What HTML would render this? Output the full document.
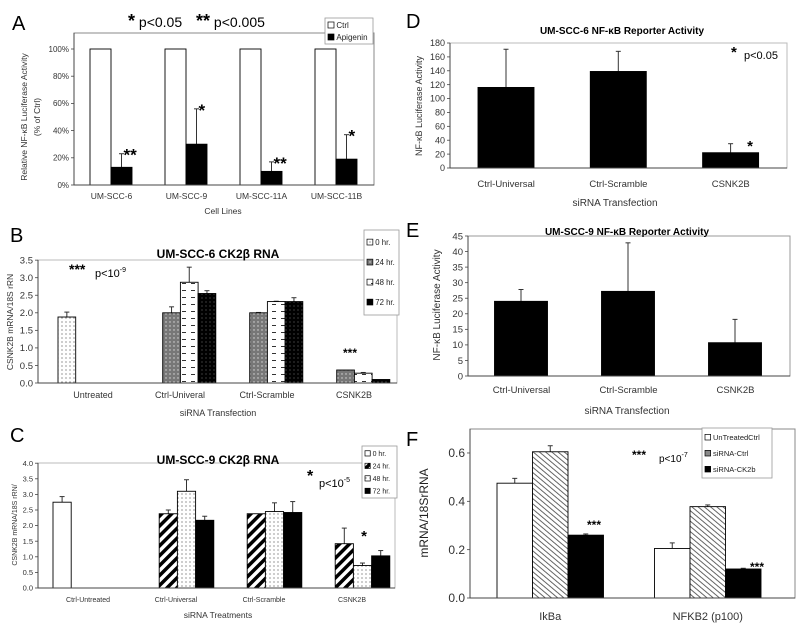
<!DOCTYPE html>
<html><head><meta charset="utf-8"><style>
html,body{margin:0;padding:0;background:#fff;}
svg{display:block;font-family:"Liberation Sans",sans-serif;}
</style></head><body>
<svg id="fig" width="800" height="634" viewBox="0 0 800 634">
<defs>
<pattern id="pDots" width="4" height="4" patternUnits="userSpaceOnUse"><rect width="4" height="4" fill="#fff"/><circle cx="2" cy="2" r="0.6" fill="#555"/></pattern>
<pattern id="pGrayDots" width="4" height="4" patternUnits="userSpaceOnUse"><rect width="4" height="4" fill="#777"/><circle cx="2" cy="2" r="0.7" fill="#ddd"/></pattern>
<pattern id="pDash" width="9" height="7" patternUnits="userSpaceOnUse"><rect width="9" height="7" fill="#fff"/><rect x="2" y="3" width="4" height="1" fill="#333"/></pattern>
<pattern id="pBlackDots" width="4" height="4" patternUnits="userSpaceOnUse"><rect width="4" height="4" fill="#000"/><circle cx="2" cy="2" r="0.5" fill="#999"/></pattern>
<pattern id="pDiag" width="7" height="7" patternUnits="userSpaceOnUse" patternTransform="rotate(45)"><rect width="7" height="7" fill="#fff"/><rect width="3.5" height="7" fill="#000"/></pattern>
<pattern id="pHatch" width="4" height="4" patternUnits="userSpaceOnUse" patternTransform="rotate(-50)"><rect width="4" height="4" fill="#fff"/><rect width="0.9" height="4" fill="#555"/></pattern>
</defs>
<g id="root"></g>
<text x="12" y="30" font-size="20">A</text>
<text x="128" y="27" font-size="14"><tspan font-size="18" font-weight="bold">*</tspan> p&lt;0.05 <tspan dx="10" font-size="18" font-weight="bold">**</tspan> p&lt;0.005</text>
<text x="223" y="214" font-size="8.5" text-anchor="middle" fill="#333">Cell Lines</text>
<text transform="translate(27,117) rotate(-90)" font-size="8.5" text-anchor="middle" fill="#333">Relative NF-κB Luciferase Activity</text>
<text transform="translate(40,117) rotate(-90)" font-size="8.5" text-anchor="middle" fill="#333">(% of Ctrl)</text>

<text x="10" y="242" font-size="20">B</text>
<text x="218" y="258" font-size="12" font-weight="bold" text-anchor="middle">UM-SCC-6 CK2β RNA</text>
<text x="69" y="274" font-size="14" font-weight="bold">***</text>
<text x="95" y="277" font-size="11">p&lt;10<tspan dy="-5" font-size="7">-9</tspan></text>
<text transform="translate(13,322) rotate(-90)" font-size="8.5" text-anchor="middle" fill="#333">CSNK2B mRNA/18S rRN</text>
<text x="218" y="416" font-size="9" text-anchor="middle" fill="#333">siRNA Transfection</text>
<text x="350" y="357" font-size="12" font-weight="bold" text-anchor="middle">***</text>

<text x="10" y="442" font-size="20">C</text>
<text x="218" y="464" font-size="12" font-weight="bold" text-anchor="middle">UM-SCC-9 CK2β RNA</text>
<text x="307" y="481" font-size="16" font-weight="bold">*</text>
<text x="319" y="487" font-size="11">p&lt;10<tspan dy="-5" font-size="7">-5</tspan></text>
<text transform="translate(17,525) rotate(-90)" font-size="7" text-anchor="middle" fill="#333">CSNK2B mRNA/18S rRN/</text>
<text x="218" y="618" font-size="8.5" text-anchor="middle" fill="#333">siRNA Treatments</text>
<text x="364" y="541" font-size="15" font-weight="bold" text-anchor="middle">*</text>

<text x="406" y="28" font-size="20">D</text>
<text x="622" y="34" font-size="10" font-weight="bold" text-anchor="middle">UM-SCC-6 NF-κB Reporter Activity</text>
<text x="731" y="57" font-size="15" font-weight="bold">*</text>
<text x="744" y="59" font-size="11">p&lt;0.05</text>
<text x="750" y="151" font-size="15" font-weight="bold" text-anchor="middle">*</text>
<text transform="translate(422,106) rotate(-90)" font-size="9" text-anchor="middle" fill="#333">NF-κB Luciferase Activity</text>
<text x="615" y="206" font-size="10" text-anchor="middle" fill="#333">siRNA Transfection</text>

<text x="406" y="237" font-size="20">E</text>
<text x="627" y="235" font-size="10" font-weight="bold" text-anchor="middle">UM-SCC-9 NF-κB Reporter Activity</text>
<text transform="translate(440,305) rotate(-90)" font-size="10" text-anchor="middle" fill="#333">NF-κB Luciferase Activity</text>
<text x="627" y="414" font-size="10" text-anchor="middle" fill="#333">siRNA Transfection</text>

<text x="406" y="446" font-size="20">F</text>
<text x="632" y="459" font-size="12" font-weight="bold">***</text>
<text x="659" y="462" font-size="10">p&lt;10<tspan dy="-5" font-size="7">-7</tspan></text>
<text x="594" y="529" font-size="12" font-weight="bold" text-anchor="middle">***</text>
<text x="757" y="571" font-size="12" font-weight="bold" text-anchor="middle">***</text>
<text transform="translate(428,513) rotate(-90)" font-size="12" text-anchor="middle" fill="#222">mRNA/18SrRNA</text>
</svg>
<script>
// ---- data ----
const aCategories = ["UM-SCC-6","UM-SCC-9","UM-SCC-11A","UM-SCC-11B"];
const aCtrl = [100,100,100,100];
const aApigenin = [13,30,10,19];
const aApigeninErr = [10,26,7,18];
const aTicks = [0,20,40,60,80,100];
const aStars = ["**","*","**","*"];

const bCategories = ["Untreated","Ctrl-Univeral","Ctrl-Scramble","CSNK2B"];
const b0h = [1.88,null,null,null];
const b24h = [null,2.0,2.0,0.37];
const b48h = [null,2.87,2.32,0.28];
const b72h = [null,2.55,2.32,0.1];
const b0hErr = [0.14,0,0,0];
const b24hErr = [0,0.17,0.01,0];
const b48hErr = [0,0.43,0.01,0.02];
const b72hErr = [0,0.08,0.11,0];
const bTicks = [0,0.5,1,1.5,2,2.5,3,3.5];

const cCategories = ["Ctrl-Untreated","Ctrl-Universal","Ctrl-Scramble","CSNK2B"];
const c0h = [2.75,null,null,null];
const c24h = [null,2.38,2.38,1.42];
const c48h = [null,3.1,2.45,0.72];
const c72h = [null,2.17,2.42,1.03];
const c0hErr = [0.18,0,0,0];
const c24hErr = [0,0.12,0,0.5];
const c48hErr = [0,0.37,0.28,0.08];
const c72hErr = [0,0.13,0.35,0.17];
const cTicks = [0,0.5,1,1.5,2,2.5,3,3.5,4];

const dCategories = ["Ctrl-Universal","Ctrl-Scramble","CSNK2B"];
const dValues = [116,139,22];
const dErr = [55,29,13];
const dTicks = [0,20,40,60,80,100,120,140,160,180];

const eCategories = ["Ctrl-Universal","Ctrl-Scramble","CSNK2B"];
const eValues = [24,27.2,10.7];
const eErr = [3.8,15.6,7.5];
const eTicks = [0,5,10,15,20,25,30,35,40,45];

const fCategories = ["IkBa","NFKB2 (p100)"];
const fUntreated = [0.475,0.205];
const fSiCtrl = [0.605,0.378];
const fSiCK2b = [0.26,0.12];
const fUntreatedErr = [0.02,0.023];
const fSiCtrlErr = [0.025,0.007];
const fSiCK2bErr = [0.005,0.003];
const fTicks = [0,0.2,0.4,0.6];

// ---- drawing ----
const NS="http://www.w3.org/2000/svg";
const root=document.getElementById('root');
function mk(tag,attrs){const e=document.createElementNS(NS,tag);for(const k in attrs)e.setAttribute(k,attrs[k]);root.appendChild(e);return e;}

function panel(cfg){
  const ys=v=>cfg.y0-(v-cfg.ymin)*cfg.k;
  const fr=mk('rect',{x:cfg.left,y:cfg.top,width:cfg.right-cfg.left,height:cfg.y0-cfg.top,fill:'none',stroke:cfg.frame,'stroke-width':1});
  
  
  cfg.ticks.forEach(t=>{
    const y=ys(t);
    const tl=mk('line',{x1:cfg.left-3,x2:cfg.left,y1:y,y2:y,stroke:'#444','stroke-width':0.8});
    
    
    const tx=mk('text',{x:cfg.left-5,y:y+cfg.fs*0.35,'font-size':cfg.fs,'text-anchor':'end',fill:'#333'});
    tx.textContent=cfg.fmt(t);
    
    
  });
  cfg.cats.forEach((c,i)=>{
    const cx=cfg.bandStart+cfg.step*(i+0.5);
    const tx=mk('text',{x:cx,y:cfg.y0+cfg.labDy,'font-size':cfg.cfs,'text-anchor':'middle',fill:'#333'});
    tx.textContent=c;
    
    
    cfg.series.forEach((s,j)=>{
      const v=s.vals[i]; if(v==null) return;
      const x=cfg.bandStart+cfg.step*i+cfg.gOff+j*cfg.bw;
      const y=ys(v);
      const e=s.err[i];
      if(e>0){
        const el=mk('line',{x1:x+cfg.bw/2,x2:x+cfg.bw/2,y1:y,y2:ys(v+e),stroke:'#333','stroke-width':1});
        
        
        const ec=mk('line',{x1:x+cfg.bw/2-2.5,x2:x+cfg.bw/2+2.5,y1:ys(v+e),y2:ys(v+e),stroke:'#333','stroke-width':1});
        
        
      }
      const r=mk('rect',{x:x,y:y,width:cfg.bw,height:cfg.y0-y,fill:s.fill,stroke:'#000','stroke-width':0.9});
      
      
      if(s.stars&&s.stars[i]){
        const st=mk('text',{x:x+cfg.bw/2+2,y:ys(v+e)+7,'font-size':17,'font-weight':'bold'});
        st.textContent=s.stars[i];
        
        
      }
    });
  });
  const ax=mk('line',{x1:cfg.left,x2:cfg.right,y1:cfg.y0,y2:cfg.y0,stroke:'#444','stroke-width':1});
  
  
  const ay=mk('line',{x1:cfg.left,x2:cfg.left,y1:cfg.top,y2:cfg.y0,stroke:'#444','stroke-width':1});
  
  
}

function legend(id,x,y,w,h,items,fs,rowH,y0){
  const b=mk('rect',{x:x,y:y,width:w,height:h,fill:'#fff',stroke:'#999','stroke-width':0.8});
  
  
  items.forEach((it,i)=>{
    const yy=y+y0+i*rowH;
    const sw=mk('rect',{x:x+3,y:yy-fs*0.75,width:fs*0.75,height:fs*0.75,fill:it[1],stroke:'#000','stroke-width':0.7});
    
    
    const t=mk('text',{x:x+5+fs*0.8,y:yy,'font-size':fs,fill:'#222'});
    t.textContent=it[0];
    
    
  });
}

panel({id:'panel-a',left:74,right:374,top:33,y0:185,ymin:0,k:1.36,ticks:aTicks,fmt:t=>t+'%',fs:8,cfs:8.5,labDy:14,frame:'#888',
  cats:aCategories,bandStart:74,step:75,gOff:16,bw:21,
  series:[{name:'ctrl',vals:aCtrl,err:[0,0,0,0],fill:'#fff'},{name:'apigenin',vals:aApigenin,err:aApigeninErr,fill:'#000',stars:aStars}]});
legend('panel-a',325,18,48,26,[['Ctrl','#fff'],['Apigenin','#000']],8,12,10);

panel({id:'panel-b',left:38,right:397,top:260,y0:383,ymin:0,k:35.1,ticks:bTicks,fmt:t=>t.toFixed(1),fs:9.5,cfs:9,labDy:15,frame:'#bbb',
  cats:bCategories,bandStart:49.5,step:87,gOff:8.5,bw:17.7,
  series:[{name:'0hr',vals:b0h,err:b0hErr,fill:'url(#pDots)'},{name:'24hr',vals:b24h,err:b24hErr,fill:'url(#pGrayDots)'},
          {name:'48hr',vals:b48h,err:b48hErr,fill:'url(#pDash)'},{name:'72hr',vals:b72h,err:b72hErr,fill:'url(#pBlackDots)'}]});
legend('panel-b',364,230,35,85,[['0 hr.','url(#pDots)'],['24 hr.','url(#pGrayDots)'],['48 hr.','url(#pDash)'],['72 hr.','#000']],7.8,20,15);

panel({id:'panel-c',left:38,right:395,top:463,y0:588,ymin:0,k:31.2,ticks:cTicks,fmt:t=>t.toFixed(1),fs:7.5,cfs:7,labDy:14,frame:'#bbb',
  cats:cCategories,bandStart:44,step:88,gOff:9,bw:18.2,
  series:[{name:'0hr',vals:c0h,err:c0hErr,fill:'#fff'},{name:'24hr',vals:c24h,err:c24hErr,fill:'url(#pDiag)'},
          {name:'48hr',vals:c48h,err:c48hErr,fill:'url(#pDots)'},{name:'72hr',vals:c72h,err:c72hErr,fill:'#000'}]});
legend('panel-c',362,446,35,52,[['0 hr.','#fff'],['24 hr.','url(#pDiag)'],['48 hr.','url(#pDots)'],['72 hr.','#000']],7,12.5,10);

panel({id:'panel-d',left:450,right:787,top:43,y0:168,ymin:0,k:125/180,ticks:dTicks,fmt:t=>t,fs:9,cfs:9.5,labDy:19,frame:'#bbb',
  cats:dCategories,bandStart:450,step:112.3,gOff:28,bw:56,
  series:[{name:'nfkb',vals:dValues,err:dErr,fill:'#000'}]});

panel({id:'panel-e',left:468,right:790,top:236,y0:376,ymin:0,k:140/45,ticks:eTicks,fmt:t=>t,fs:9.5,cfs:9.5,labDy:17,frame:'#999',
  cats:eCategories,bandStart:468,step:107,gOff:26.5,bw:53,
  series:[{name:'nfkb',vals:eValues,err:eErr,fill:'#000'}]});

panel({id:'panel-f',left:470,right:795,top:429,y0:598,ymin:0,k:241.7,ticks:fTicks,fmt:t=>t.toFixed(1),fs:12,cfs:11,labDy:22,frame:'#888',
  cats:fCategories,bandStart:471.5,step:157.5,gOff:25.5,bw:35.5,
  series:[{name:'untreated',vals:fUntreated,err:fUntreatedErr,fill:'#fff'},{name:'sirna-ctrl',vals:fSiCtrl,err:fSiCtrlErr,fill:'url(#pHatch)'},
          {name:'sirna-ck2b',vals:fSiCK2b,err:fSiCK2bErr,fill:'#000'}]});
legend('panel-f',702,428,70,50,[['UnTreatedCtrl','#fff'],['siRNA-Ctrl','#888'],['siRNA-CK2b','#000']],7.5,16,12);
</script>
</body></html>
